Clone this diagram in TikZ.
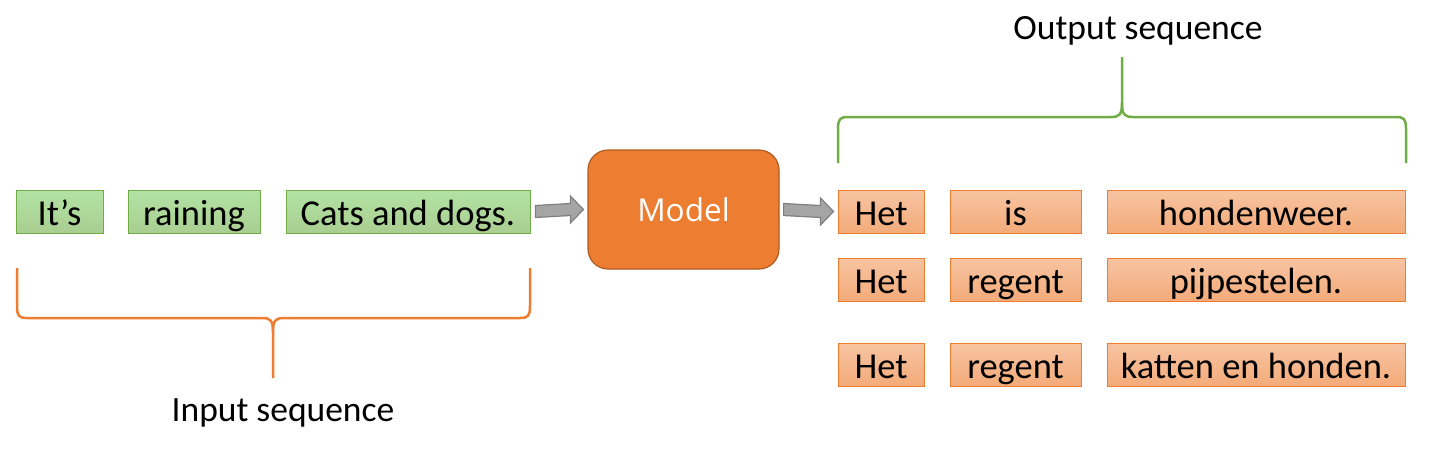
\documentclass[tikz,border=0pt]{standalone}
\usepackage{fontspec}
\setmainfont{Carlito}
\newfontfamily\modelfont{Open Sans}
\usetikzlibrary{calc}

\definecolor{boxgreen}{HTML}{70AD47}
\definecolor{boxorange}{HTML}{ED7D31}
\definecolor{modelborder}{HTML}{AE5A21}
\definecolor{arrowgray}{HTML}{A5A5A5}
\definecolor{arrowline}{HTML}{7F7F7F}

\tikzset{
  wordbox/.style={draw,line width=1pt,minimum height=43,inner sep=0pt,
    text height=27pt,text depth=0pt,font=\fontsize{36.5}{44}\selectfont},
  inword/.style={wordbox,draw=boxgreen,top color=green!25!boxgreen!45!white,bottom color=boxgreen!60!white},
  outword/.style={wordbox,draw=boxorange,top color=boxorange!45!white,bottom color=boxorange!65!white},
  modelbox/.style={draw=modelborder,fill=boxorange,line width=1.2pt,rounded corners=20,
    minimum width=191,minimum height=119,text=white,font=\modelfont\fontsize{31.5}{38}\selectfont},
  arrowbox/.style={draw=arrowline,fill=arrowgray,line width=1.2pt,line join=miter},
  inbrace/.style={draw=boxorange,line width=2.5pt},
  outbrace/.style={draw=boxgreen,line width=2.5pt},
  label/.style={font=\fontsize{35.5}{42}\selectfont}
}

% block arrow from #1 to #2 (tip)
\newcommand{\blockarrow}[2]{%
  \draw[arrowbox] ($(#1)+(0,-6)$) -- ($(#2)+(-13,-6)$) -- ($(#2)+(-13,-13.5)$) -- (#2)
    -- ($(#2)+(-13,13.5)$) -- ($(#2)+(-13,6)$) -- ($(#1)+(0,6)$) -- cycle;}

\begin{document}
\begin{tikzpicture}[x=1pt,y=-1pt]
\useasboundingbox (0,0) rectangle (1438,448);

% input words
\node[inword,minimum width=87] (its) at (59.5,211.5) {It’s};
\node[inword,minimum width=132] (raining) at (194,211.5) {raining};
\node[inword,minimum width=244] (cats) at (408,211.5) {Cats and dogs.};

% model
\node[modelbox] (model) at (683.5,209.5) {Model};

% output words, three rows
\node[outword,minimum width=86] (het1) at (881,211.5) {Het};
\node[outword,minimum width=131] (is1) at (1015.5,211.5) {is};
\node[outword,minimum width=298] (rest1) at (1256,211.5) {hondenweer.};

\node[outword,minimum width=86] (het2) at (881,279.5) {Het};
\node[outword,minimum width=131] (regent2) at (1015.5,279.5) {regent};
\node[outword,minimum width=298] (rest2) at (1256,279.5) {pijpestelen.};

\node[outword,minimum width=86] (het3) at (881,364.5) {Het};
\node[outword,minimum width=131] (regent3) at (1015.5,364.5) {regent};
\node[outword,minimum width=298] (rest3) at (1256,364.5) {katten en honden.};

% arrows
\coordinate (a1s) at ([xshift=5]cats.east);
\coordinate (a1e) at ([xshift=-4]model.west);
\coordinate (a2s) at ([xshift=4]model.east);
\coordinate (a2e) at ([xshift=-4,yshift=0]het1.west);
\blockarrow{a1s}{a1e}
\blockarrow{a2s}{a2e}

% input brace
\draw[inbrace] (17,268) -- (17,306) .. controls (17,316) and (19,318) .. (27,318) -- (262,318)
  .. controls (270,318) and (273,320) .. (273,332) -- (273,378);
\draw[inbrace] (530,268) -- (530,306) .. controls (530,316) and (528,318) .. (520,318) -- (284,318)
  .. controls (276,318) and (273,320) .. (273,332);
\node[label] (inlabel) at (283,413) {Input sequence};

% output brace
\draw[outbrace] (838,163) -- (838,129) .. controls (838,119) and (840,117) .. (848,117) -- (1111,117)
  .. controls (1119,117) and (1122,115) .. (1122,103) -- (1122,57);
\draw[outbrace] (1406,163) -- (1406,129) .. controls (1406,119) and (1404,117) .. (1396,117) -- (1133,117)
  .. controls (1125,117) and (1122,115) .. (1122,103);
\node[label] (outlabel) at (1138,31) {Output sequence};

\end{tikzpicture}
\end{document}
